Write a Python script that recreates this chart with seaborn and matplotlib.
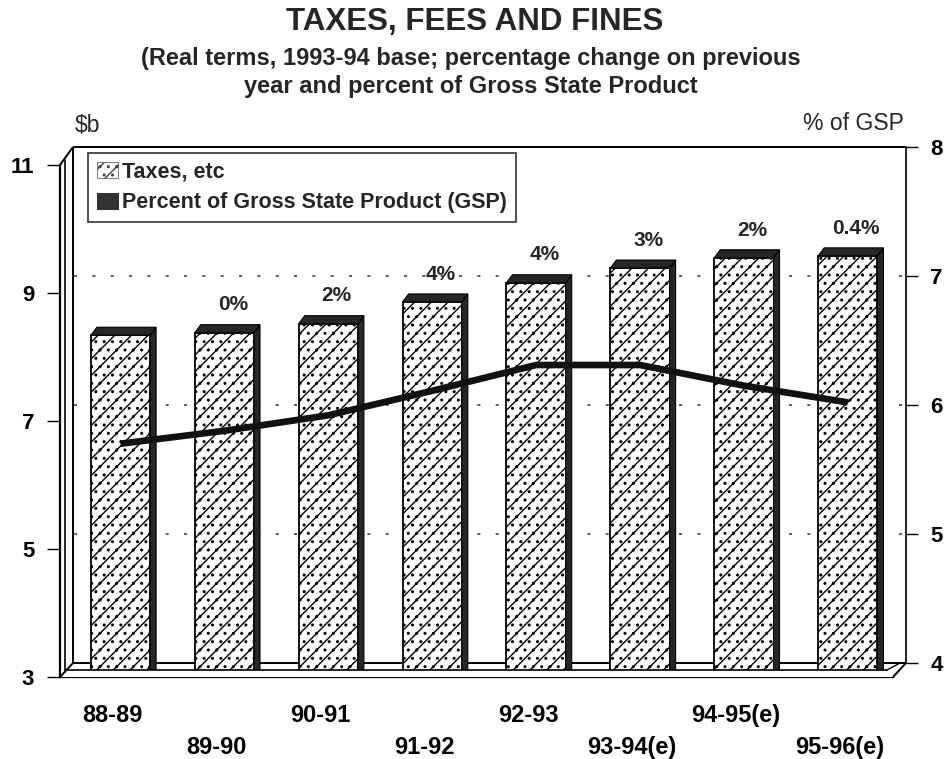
import numpy as np
import matplotlib
matplotlib.use("Agg")
import matplotlib.pyplot as plt
from matplotlib.patches import Polygon, Rectangle, Patch
import seaborn as sns

# ---------------- data ----------------
categories = ['88-89', '89-90', '90-91', '91-92', '92-93',
              '93-94(e)', '94-95(e)', '95-96(e)']
taxes = [8.34, 8.38, 8.52, 8.86, 9.16, 9.39, 9.55, 9.58]        # $b (left axis)
gsp_pct = [5.70, 5.80, 5.92, 6.11, 6.31, 6.31, 6.15, 6.02]      # % of GSP (right axis)
changes = ['', '0%', '2%', '4%', '4%', '3%', '2%', '0.4%']
left_ticks = [3, 5, 7, 9, 11]
right_ticks = [4, 5, 6, 7, 8]
grid_vals = [5, 6, 7]

sns.set_style("white")
plt.rcParams['font.family'] = ['Liberation Sans', 'DejaVu Sans']
plt.rcParams['hatch.linewidth'] = 1.0

W, H = 951, 759
fig = plt.figure(figsize=(W / 100, H / 100), dpi=100)
fig.patch.set_facecolor('white')

# overlay axes in pixel coordinates (decorative 3D frame)
back = fig.add_axes([0, 0, 1, 1], zorder=1)
back.set_xlim(0, W); back.set_ylim(H, 0); back.axis('off')
front = fig.add_axes([0, 0, 1, 1], zorder=5)
front.set_xlim(0, W); front.set_ylim(H, 0); front.axis('off')
front.patch.set_visible(False)

# main axes
ax = fig.add_axes([60 / W, 1 - 677 / H, 846 / W, 530 / H], zorder=2)
ax.patch.set_visible(False)

sns.barplot(x=categories, y=taxes, ax=ax, color='white', saturation=1,
            width=0.57, edgecolor='black', linewidth=1.3, hatch='//..',
            errorbar=None)

x0, x1 = -0.582, 7.56
ax.set_xlim(x0, x1)
ax.set_ylim(3, 3 + 530 / 64)

# 3D dark sides/tops of bars
dx, dy = 6 / 103.9, 8 / 64
dark = '#262626'
for p in list(ax.patches):
    bx0 = p.get_x(); bx1 = bx0 + p.get_width(); top = p.get_height()
    ax.add_patch(Polygon([(bx1, 3.0), (bx1, top), (bx1 + dx, top + dy), (bx1 + dx, 3.0 + dy)],
                         closed=True, facecolor=dark, edgecolor='black', lw=0.8, zorder=3))
    ax.add_patch(Polygon([(bx0, top), (bx1, top), (bx1 + dx, top + dy), (bx0 + dx, top + dy)],
                         closed=True, facecolor=dark, edgecolor='black', lw=0.8, zorder=3))

# percentage-change labels
for i, (v, lab) in enumerate(zip(taxes, changes)):
    if lab:
        ax.annotate(lab, xy=(i, v), xytext=(6, 20), textcoords='offset points',
                    ha='center', va='center', fontsize=15, fontweight='bold', zorder=6)

# right axis with GSP line
ax2 = ax.twinx()
ax2.set_zorder(3)
ax2.set_ylim(4 - 14 / 129, 8)
sns.lineplot(x=np.arange(len(categories)), y=gsp_pct, ax=ax2, color='#111111',
             lw=4.8, solid_capstyle='butt', legend=False)
ax2.set_xlim(x0, x1)

# dotted gridlines on the back wall (right-axis values) drawn behind bars
for g in grid_vals:
    disp = ax2.transData.transform((0, g))
    yl = ax.transData.inverted().transform(disp)[1]
    xs = ax.transData.inverted().transform(front.transData.transform((74, 0)))[0]
    ax.plot([xs, x1], [yl, yl], color='#333333', lw=1.1,
            linestyle=(0, (2, 10)), zorder=0.5)

# left axis styling
for s in ['top', 'right']:
    ax.spines[s].set_visible(False)
ax.spines['left'].set_bounds(3, 11)
ax.spines['bottom'].set_bounds(x0, (893 - 120.5) / 103.9)
for s in ['left', 'bottom']:
    ax.spines[s].set_linewidth(1.6)
    ax.spines[s].set_color('black')
ax.set_yticks(left_ticks)
ax.set_yticklabels([str(t) for t in left_ticks])
ax.tick_params(axis='y', direction='out', length=9.5, width=1.0, pad=9,
               labelsize=16, colors='black')
for t in ax.get_yticklabels():
    t.set_fontweight('bold')
ax.set_ylabel('')
ax.set_xlabel('')

# x ticks (staggered labels)
ax.set_xticks([i - 0.075 for i in range(len(categories))])
ax.set_xticklabels(categories, fontsize=17, fontweight='bold')
ax.tick_params(axis='x', direction='out', length=5, width=0.7, color='#999999',
               labelcolor='black')
for i, tk in enumerate(ax.xaxis.get_major_ticks()):
    tk.set_pad(14.5 if i % 2 == 0 else 37.5)

# right axis styling
for s in ['top', 'left', 'bottom']:
    ax2.spines[s].set_visible(False)
ax2.spines['right'].set_bounds(4, 8)
ax2.spines['right'].set_linewidth(1.4)
ax2.set_yticks(right_ticks)
ax2.set_yticklabels([str(t) for t in right_ticks])
ax2.tick_params(axis='y', direction='out', length=8.5, width=1.0, pad=9,
                labelsize=16, colors='black')
for t in ax2.get_yticklabels():
    t.set_fontweight('bold')
ax2.set_ylabel('')

# ---------- decorative 3D frame ----------
lk = dict(color='black', lw=1.4, solid_capstyle='butt')
# back wall
back.plot([73, 906], [147, 147], **lk)
back.plot([73, 73], [147, 663], **lk)
back.plot([73, 906], [663, 663], **lk)
# left wall
front.plot([60, 73], [165, 147], **lk)
front.plot([65, 65], [160, 672], color='black', lw=1.2)
front.plot([60, 73], [677, 663], **lk)
# floor front strip
front.add_patch(Rectangle((61, 670), 832, 6.5, facecolor='white', edgecolor='none', zorder=1))
front.plot([66, 887], [670, 670], color='black', lw=1.2, zorder=2)
front.plot([893, 906], [677, 663], **lk)
front.plot([887, 900], [670, 663], color='black', lw=1.0)

# legend
handles = [Patch(facecolor='white', edgecolor='#444444', hatch='//..', lw=0.5),
           Patch(facecolor='#333333', edgecolor='black', lw=0.5)]
leg = front.legend(handles, ['Taxes, etc', 'Percent of Gross State Product (GSP)'],
                   loc='upper left', bbox_to_anchor=(88 / W, 1 - 153 / H),
                   bbox_transform=fig.transFigure, frameon=True, fancybox=False,
                   edgecolor='black', prop={'weight': 'bold', 'size': 15.5},
                   handlelength=1.0, handleheight=0.75, handletextpad=0.2,
                   labelspacing=0.45, borderpad=0.4, borderaxespad=0)
leg.get_frame().set_linewidth(1.2)

# titles & axis captions
fig.text(475 / W, 1 - 22 / H, 'TAXES, FEES AND FINES', ha='center', va='center',
         fontsize=22.5, fontweight='bold')
fig.text(471 / W, 1 - 58 / H, '(Real terms, 1993-94 base; percentage change on previous',
         ha='center', va='center', fontsize=17, fontweight='bold')
fig.text(471 / W, 1 - 87 / H, 'year and percent of Gross State Product',
         ha='center', va='center', fontsize=17, fontweight='bold')
fig.text(75 / W, 1 - 126 / H, '$b', ha='left', va='center', fontsize=16.5)
fig.text(904 / W, 1 - 124 / H, '% of GSP', ha='right', va='center', fontsize=16.5)

fig.savefig('out.png', dpi=100, facecolor='white')
